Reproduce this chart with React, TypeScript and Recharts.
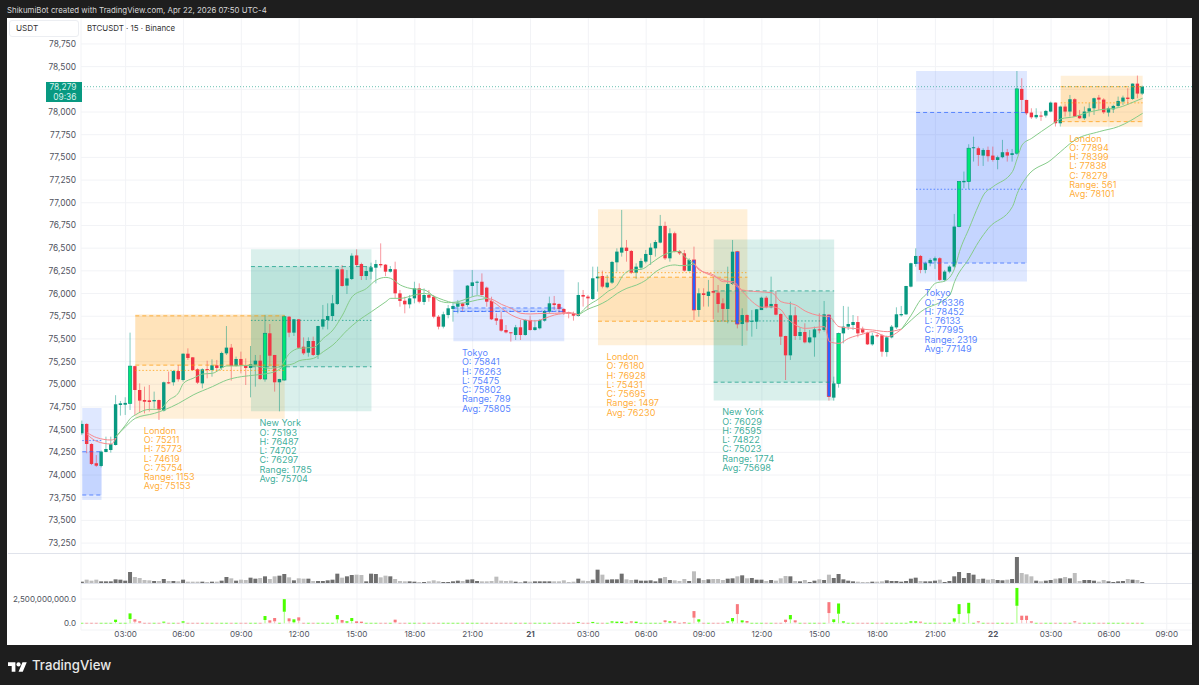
import {
  Bar,
  CartesianGrid,
  ComposedChart,
  Line,
  ReferenceArea,
  ReferenceDot,
  ReferenceLine,
  XAxis,
  YAxis,
} from 'recharts';

const FONT = 'Inter, "Noto Sans", sans-serif';
const FIRST_BAR = 3; // 15 min bars counted from 00:00 on the 20th

// prettier-ignore
const opens = [
  74460, 74563, 74342, 74130, 74100, 74254, 74276, 74331,
  74772, 74775, 74790, 75200, 74937, 74827, 74823, 74812, 74827, 74710,
  75022, 75022, 75146, 75047, 75337, 75297, 75165, 75010, 75168, 75157,
  75209, 75180, 75341, 75404, 75202, 75279, 75209, 75180, 75216, 75260,
  75058, 75562, 75323, 75022, 75047, 75745, 75569, 75716, 75414, 75348,
  75477, 75323, 75635, 75708, 75752, 75885, 76267, 76087, 76160, 76420,
  76325, 76193, 76241, 76285, 76325, 76318, 76241, 76267, 76002, 75921,
  75881, 75947, 76057, 75907, 75984, 75965, 75745, 75635, 75763, 75830,
  75855, 75892, 75874, 76083, 76120, 76130, 76065, 75918, 75727, 75716,
  75598, 75573, 75543, 75628, 75543, 75709, 75598, 75617, 75701, 75800,
  75892, 75885, 75830, 75793, 75782, 75753, 75984, 75966, 75940, 76168,
  76193, 76069, 76120, 76344, 76451, 76506, 76469, 76230, 76285, 76352,
  76425, 76498, 76561, 76745, 76388, 76664, 76469, 76443, 76249, 76370,
  75819, 76003, 75973, 76028, 76009, 75892, 75830, 76105, 76461, 75664,
  75763, 75690, 75690, 75818, 75954, 75848, 75885, 75774, 75532, 75319,
  75760, 75532, 75576, 75462, 75517, 75605, 75598, 75763, 74853, 75010,
  75561, 75635, 75653, 75686, 75612, 75569, 75440, 75540, 75540, 75355,
  75517, 75627, 75760, 75771, 76076, 76326, 76414, 76260, 76334, 76363,
  76389, 76150, 76242, 76297, 76738, 77226, 77233, 77601, 77601, 77520,
  77582, 77520, 77472, 77502, 77557, 77527, 77546, 78255, 78133, 77994,
  77942, 77961, 77961, 78005, 78104, 77876, 78060, 78005, 78141, 77961,
  77931, 78005, 78041, 78159, 78137, 77994, 78030, 78067, 78115, 78159,
  78144, 78313, 78203,
];

// prettier-ignore
const closes = [
  74563, 74342, 74122, 74103, 74258, 74287, 74340, 74780,
  74790, 74795, 75200, 74937, 74820, 74808, 74805, 74827, 74717, 75022,
  75010, 75146, 75055, 75337, 75290, 75157, 75018, 75165, 75157, 75209,
  75180, 75345, 75404, 75202, 75279, 75209, 75180, 75220, 75260, 75058,
  75562, 75315, 75022, 75058, 75745, 75569, 75716, 75403, 75341, 75477,
  75323, 75642, 75716, 75752, 75892, 76267, 76083, 76167, 76417, 76314,
  76193, 76248, 76289, 76325, 76311, 76241, 76270, 76002, 75918, 75881,
  75947, 76057, 75910, 75984, 75954, 75745, 75635, 75771, 75837, 75863,
  75899, 75860, 76087, 76123, 76130, 75984, 75910, 75716, 75701, 75591,
  75572, 75562, 75628, 75543, 75709, 75598, 75628, 75709, 75808, 75892,
  75874, 75830, 75790, 75782, 75756, 75984, 75966, 75947, 76168, 76186,
  76076, 76120, 76348, 76462, 76506, 76469, 76230, 76296, 76359, 76436,
  76506, 76568, 76745, 76388, 76664, 76462, 76443, 76252, 76370, 75819,
  76003, 75984, 76021, 76009, 75885, 75830, 76105, 76461, 75664, 75763,
  75683, 75700, 75826, 75954, 75848, 75885, 75767, 75525, 75319, 75760,
  75532, 75576, 75462, 75517, 75605, 75598, 75771, 74864, 75010, 75561,
  75635, 75664, 75686, 75561, 75570, 75440, 75536, 75532, 75359, 75517,
  75635, 75771, 75774, 76083, 76334, 76414, 76260, 76334, 76370, 76389,
  76150, 76242, 76297, 76738, 77233, 77241, 77601, 77612, 77527, 77582,
  77513, 77472, 77502, 77557, 77520, 77546, 78255, 78133, 77986, 77942,
  77968, 77953, 78012, 78104, 77876, 78060, 78005, 78141, 77950, 77931,
  78005, 78041, 78152, 78137, 77997, 78041, 78067, 78122, 78159, 78144,
  78313, 78203, 78279,
];

// prettier-ignore
const highs = [
  74600, 74570, 74350, 74220, 74270, 74423, 74423, 74880,
  74816, 74857, 75569, 75205, 75010, 74974, 74992, 74919, 74830, 75030,
  75140, 75157, 75213, 75340, 75396, 75300, 75176, 75176, 75260, 75275,
  75268, 75360, 75642, 75444, 75305, 75360, 75285, 75422, 75323, 75323,
  75764, 75664, 75323, 75060, 75760, 75752, 75720, 75720, 75517, 75517,
  75525, 75645, 75874, 75892, 75984, 76278, 76314, 76259, 76443, 76487,
  76340, 76296, 76340, 76370, 76553, 76325, 76303, 76351, 76039, 75965,
  75984, 76130, 76112, 76057, 76039, 75984, 75763, 75800, 75874, 75910,
  75929, 75900, 76094, 76259, 76142, 76222, 76076, 75965, 75782, 75800,
  75653, 75573, 75654, 75709, 75716, 75756, 75709, 75716, 75819, 75966,
  75973, 75892, 75837, 75801, 75801, 76124, 76039, 75984, 76296, 76296,
  76252, 76205, 76359, 76498, 76921, 76590, 76480, 76333, 76388, 76480,
  76553, 76590, 76866, 76792, 76719, 76682, 76480, 76480, 76388, 76517,
  76058, 76058, 76150, 76186, 76094, 75947, 76296, 76590, 76470, 75837,
  75770, 75818, 75830, 75965, 75973, 76186, 76028, 75782, 75535, 75910,
  75855, 75627, 75672, 75598, 75635, 75782, 75918, 75771, 75084, 75570,
  75863, 75855, 75763, 75752, 75635, 75580, 75569, 75561, 75554, 75536,
  75653, 75848, 75863, 76085, 76340, 76498, 76425, 76352, 76388, 76407,
  76400, 76260, 76311, 76877, 77240, 77344, 77645, 77729, 77619, 77600,
  77619, 77619, 77520, 77693, 77593, 77593, 78452, 78372, 78135, 78041,
  78041, 78005, 78023, 78115, 78105, 78071, 78086, 78188, 78152, 78023,
  78060, 78097, 78159, 78188, 78152, 78060, 78080, 78170, 78181, 78262,
  78315, 78402, 78291,
];

// prettier-ignore
const lows = [
  74440, 74240, 74110, 74090, 74085, 74250, 74247, 74325,
  74655, 74662, 74717, 74662, 74687, 74680, 74700, 74735, 74607, 74700,
  75003, 74985, 75029, 75029, 75268, 75147, 75003, 74955, 75066, 75084,
  75140, 75158, 75323, 75040, 75194, 75120, 74992, 74856, 74974, 75047,
  75029, 75194, 74919, 74702, 75040, 75518, 75532, 75396, 75323, 75304,
  75312, 75279, 75605, 75605, 75708, 75874, 76076, 75995, 76149, 76296,
  76149, 76149, 76156, 76112, 76285, 76193, 76230, 75947, 75855, 75782,
  75837, 75892, 75892, 75874, 75910, 75727, 75605, 75616, 75727, 75690,
  75782, 75800, 75855, 75965, 75984, 75976, 75855, 75708, 75653, 75580,
  75561, 75470, 75488, 75488, 75536, 75591, 75591, 75605, 75690, 75782,
  75819, 75782, 75764, 75727, 75701, 75745, 75856, 75819, 75929, 76021,
  76058, 76058, 76105, 76241, 76407, 76351, 76216, 76161, 76260, 76333,
  76315, 76407, 76553, 76370, 76351, 76454, 76425, 76241, 76241, 75709,
  75745, 75856, 75856, 75716, 75790, 75690, 75672, 76094, 75616, 75422,
  75590, 75525, 75609, 75818, 75837, 75837, 75760, 75433, 75047, 75268,
  75488, 75488, 75451, 75451, 75304, 75561, 75580, 74820, 74820, 74963,
  75451, 75598, 75598, 75517, 75555, 75433, 75425, 75517, 75304, 75304,
  75506, 75609, 75745, 75763, 76068, 76296, 76223, 76223, 76300, 76271,
  76140, 76133, 76223, 76278, 76730, 77160, 77149, 77454, 77406, 77406,
  77454, 77454, 77369, 77490, 77454, 77454, 77527, 78005, 77968, 77924,
  77924, 77902, 77939, 77997, 77840, 77840, 77950, 77950, 77946, 77924,
  77913, 77950, 77968, 78023, 77979, 77950, 77990, 78049, 78078, 78078,
  78133, 78152, 78188,
];

// prettier-ignore
const volumes = [
  4, 10, 7, 10, 5, 5, 5, 11,
  10, 7, 33, 18, 15, 9, 8, 6, 6, 12,
  6, 6, 5, 10, 4, 4, 4, 4, 3, 4,
  4, 7, 18, 14, 7, 10, 9, 16, 13, 15,
  20, 12, 20, 22, 27, 17, 8, 14, 13, 13,
  6, 6, 6, 8, 10, 28, 16, 20, 24, 25,
  24, 5, 28, 27, 17, 22, 20, 12, 6, 5,
  5, 4, 3, 3, 5, 8, 5, 3, 3, 5,
  7, 6, 10, 11, 6, 5, 5, 6, 19, 7,
  6, 7, 4, 3, 5, 4, 5, 5, 5, 5,
  5, 5, 8, 3, 4, 13, 7, 6, 10, 40,
  25, 10, 11, 11, 28, 11, 9, 10, 7, 7,
  8, 5, 14, 18, 9, 8, 6, 12, 6, 35,
  14, 9, 11, 12, 12, 9, 13, 14, 20, 23,
  14, 15, 10, 10, 6, 9, 7, 14, 21, 20,
  6, 5, 9, 3, 7, 11, 9, 25, 15, 27,
  11, 7, 5, 4, 3, 3, 4, 4, 5, 8,
  6, 6, 4, 6, 13, 16, 6, 5, 5, 7,
  10, 3, 6, 20, 33, 15, 30, 25, 12, 13,
  10, 12, 9, 8, 10, 12, 78, 30, 26, 20,
  7, 5, 7, 9, 13, 14, 18, 14, 30, 6,
  9, 9, 7, 4, 9, 5, 3, 5, 6, 12,
  10, 9, 3,
];

// lower pane, millions
// prettier-ignore
const deltaTops = [
  60, 60, 60, 60, 60, 60, 60, 374,
  60, 60, 1020, 408, 204, 60, 60, 60, 60, 170,
  60, 60, 60, 204, 60, 60, 60, 60, 60, 60,
  60, 60, 60, 60, 60, 60, 60, 60, 60, 60,
  748, 306, 544, 60, 2482, 510, 408, 612, 60, 60,
  60, 60, 60, 60, 60, 850, 340, 204, 544, 204,
  170, 60, 60, 60, 60, 60, 60, 374, 60, 60,
  60, 60, 60, 60, 60, 60, 60, 60, 60, 60,
  60, 60, 60, 60, 60, 60, 60, 60, 60, 60,
  60, 60, 60, 60, 60, 60, 60, 60, 60, 60,
  60, 60, 60, 60, 60, 140, 60, 60, 140, 60,
  60, 60, 204, 170, 170, 60, 204, 170, 60, 60,
  60, 60, 60, 306, 204, 204, 60, 100, 60, 1258,
  408, 60, 60, 60, 60, 60, 204, 544, 1972, 306,
  238, 60, 60, 60, 60, 60, 60, 60, 374, 850,
  306, 60, 60, 60, 60, 60, 60, 2176, 408, 2040,
  204, 60, 60, 60, 60, 60, 60, 60, 60, 60,
  60, 60, 60, 60, 204, 204, 170, 60, 60, 60,
  60, 60, 60, 510, 1972, 60, 2108, 60, 204, 60,
  60, 60, 60, 60, 60, 60, 3638, 782, 782, 204,
  60, 60, 60, 60, 60, 60, 60, 60, 204, 60,
  60, 60, 60, 60, 60, 60, 60, 60, 60, 60,
  60, 60, 60,
];

// prettier-ignore
const deltaBottoms = [
  0, 0, 0, 0, 0, 0, 0, 136,
  0, 0, 442, 170, 68, 0, 0, 0, 0, 68,
  0, 0, 0, 68, 0, 0, 0, 0, 0, 0,
  0, 0, 0, 0, 0, 0, 0, 0, 0, 0,
  340, 68, 204, 0, 1190, 204, 102, 272, 0, 0,
  0, 0, 0, 0, 0, 408, 68, 68, 238, 34,
  34, 0, 0, 0, 0, 0, 0, 102, 0, 0,
  0, 0, 0, 0, 0, 0, 0, 0, 0, 0,
  0, 0, 0, 0, 0, 0, 0, 0, 0, 0,
  0, 0, 0, 0, 0, 0, 0, 0, 0, 0,
  0, 0, 0, 0, 0, 40, 0, 0, 40, 0,
  0, 0, 68, 34, 34, 0, 68, 34, 0, 0,
  0, 0, 0, 136, 68, 68, 0, 30, 0, 578,
  170, 0, 0, 0, 0, 0, 68, 204, 952, 102,
  68, 0, 0, 0, 0, 0, 0, 0, 136, 408,
  102, 0, 0, 0, 0, 0, 0, 1054, 136, 986,
  68, 0, 0, 0, 0, 0, 0, 0, 0, 0,
  0, 0, 0, 0, 68, 68, 68, 0, 0, 0,
  0, 0, 0, 170, 952, 0, 1020, 0, 102, 0,
  0, 0, 0, 0, 0, 0, 1802, 340, 340, 68,
  0, 0, 0, 0, 0, 0, 0, 0, 102, 0,
  0, 0, 0, 0, 0, 0, 0, 0, 0, 0,
  0, 0, 0,
];

const strongUpBars = [13, 41, 45, 160, 185, 187, 197];
const strongDownBars = [130, 139, 158];

// moving average segments as [bar, price]
const redFast1 = [[4, 74467], [6, 74412], [9, 74386], [10, 74405]];
const redSlow1 = [[4, 74449], [6, 74371], [9, 74342], [10, 74405]];
const greenFast1 = [
  [10, 74423], [12, 74552], [13, 74625], [14, 74662], [17, 74724], [19, 74724], [21, 74827], [23, 74908],
  [24, 75011], [26, 75066], [28, 75113], [30, 75121], [33, 75202], [35, 75202], [38, 75209], [42, 75176],
  [44, 75194], [46, 75340], [48, 75396], [51, 75407], [53, 75506], [55, 75598], [57, 75763], [59, 75965],
  [62, 76057], [64, 76149], [66, 76178], [67, 76167], [69, 76094], [71, 76057], [74, 76039], [76, 75965],
  [77, 75921], [79, 75899], [81, 75910], [83, 75947], [85, 75976], [87, 75947],
];
const greenSlow1 = [
  [10, 74423], [12, 74533], [14, 74625], [18, 74680], [20, 74717], [23, 74790], [26, 74882], [30, 74974],
  [33, 75047], [36, 75084], [39, 75102], [43, 75139], [45, 75202], [47, 75231], [48, 75260], [51, 75286],
  [53, 75359], [55, 75433], [58, 75598], [60, 75690], [63, 75800], [66, 75910], [67, 75947], [69, 75947],
  [72, 75984], [74, 76002], [77, 75947], [79, 75910], [81, 75892], [83, 75905], [85, 75930], [87, 75947],
];
const redFast2 = [
  [87, 75947], [88, 75936], [90, 75880], [92, 75837], [94, 75782], [96, 75775], [99, 75782], [101, 75782],
  [104, 75790], [106, 75764],
];
const redSlow2 = [
  [87, 75947], [89, 75880], [90, 75837], [92, 75764], [94, 75720], [97, 75698], [99, 75727], [101, 75764],
  [104, 75782], [106, 75764],
];
const greenFast2 = [
  [106, 75764], [108, 75870], [110, 75936], [112, 76021], [114, 76094], [115, 76186], [117, 76260],
  [119, 76267], [121, 76333], [123, 76407], [126, 76462], [127, 76462], [128, 76407], [130, 76326],
];
const greenSlow2 = [
  [106, 75764], [108, 75830], [110, 75870], [112, 75925], [114, 76002], [116, 76058], [118, 76094],
  [120, 76150], [122, 76241], [124, 76296], [126, 76315], [127, 76307], [129, 76315], [130, 76326],
];
const redFast3 = [
  [130, 76326], [131, 76270], [134, 76190], [136, 76149], [138, 76112], [140, 76020], [142, 75910], [144, 75848],
  [146, 75855], [148, 75819], [149, 75745], [151, 75653], [153, 75616], [157, 75635], [158, 75470], [160, 75451],
  [162, 75506], [165, 75554], [167, 75580], [170, 75525], [173, 75609],
];
const redSlow3 = [
  [130, 76326], [131, 76259], [134, 76205], [136, 76131], [138, 76131], [140, 76039], [143, 76021], [146, 76009],
  [148, 75910], [151, 75874], [153, 75807], [156, 75756], [158, 75745], [160, 75635], [163, 75616], [167, 75598],
  [170, 75580], [173, 75609],
];
const greenFast3 = [
  [173, 75609], [175, 75763], [177, 75936], [178, 75985], [180, 76113], [182, 76139], [184, 76278], [185, 76462],
  [187, 76719], [189, 76976], [190, 77087], [192, 77178], [196, 77344], [197, 77491], [198, 77638], [200, 77711],
  [204, 77858], [206, 77924], [209, 77950], [211, 77986], [214, 78023], [218, 78049], [221, 78108], [223, 78152],
];
const greenSlow3 = [
  [173, 75609], [175, 75708], [177, 75800], [183, 75985], [184, 76132], [187, 76389], [189, 76572], [191, 76719],
  [196, 76958], [197, 77105], [199, 77288], [204, 77472], [206, 77564], [209, 77693], [214, 77784], [218, 77840],
  [223, 77986],
];

const sessions = [
  { name: 'Tokyo', from: 3, to: 7, o: 74257, h: 74739, l: 73725, c: 73780, avg: 74380, labelled: false },
  { name: 'London', from: 14, to: 45, o: 75211, h: 75773, l: 74619, c: 75754, range: 1153, avg: 75153, labelled: true },
  { name: 'New York', from: 38, to: 63, o: 75193, h: 76487, l: 74702, c: 76297, range: 1785, avg: 75704, labelled: true },
  { name: 'Tokyo', from: 80, to: 103, o: 75841, h: 76263, l: 75475, c: 75802, range: 789, avg: 75805, labelled: true },
  { name: 'London', from: 110, to: 141, o: 76180, h: 76928, l: 75431, c: 75695, range: 1497, avg: 76230, labelled: true },
  { name: 'New York', from: 134, to: 159, o: 76029, h: 76595, l: 74822, c: 75023, range: 1774, avg: 75698, labelled: true },
  { name: 'Tokyo', from: 176, to: 199, o: 76336, h: 78452, l: 76133, c: 77995, range: 2319, avg: 77149, labelled: true },
  { name: 'London', from: 206, to: 223, o: 77894, h: 78399, l: 77838, c: 78279, range: 561, avg: 78101, labelled: true },
];

const sessionColors: Record<string, string> = {
  Tokyo: '#2962ff',
  London: '#ff9800',
  'New York': '#089981',
};

const priceTicks = [
  73250, 73500, 73750, 74000, 74250, 74500, 74750, 75000, 75250, 75500, 75750, 76000, 76250, 76500, 76750, 77000,
  77250, 77500, 77750, 78000, 78250, 78500, 78750,
];
const timeTicks = [12, 24, 36, 48, 60, 72, 84, 96, 108, 120, 132, 144, 156, 168, 180, 192, 204, 216, 228];
const timeLabels = [
  '03:00', '06:00', '09:00', '12:00', '15:00', '18:00', '21:00', '21', '03:00', '06:00', '09:00', '12:00', '15:00',
  '18:00', '21:00', '22', '03:00', '06:00', '09:00',
];
const LAST_PRICE = 78279;
const HIDDEN_PRICE_TICK = 78250; // sits under the last price tag

const bars = opens.map((open, i) => ({
  t: i + FIRST_BAR,
  open,
  close: closes[i],
  high: highs[i],
  low: lows[i],
  range: [lows[i], highs[i]],
  volume: volumes[i],
  deltaTop: deltaTops[i],
  deltaBottom: deltaBottoms[i],
  delta: [0, deltaTops[i]],
}));

const asRows = (pts: number[][]) => pts.map(([t, price]) => ({ t, price }));

const xDomain = [2.739, 233.24];
const UP = '#089981';
const DOWN = '#f23645';
const GRID = '#f2f3f6';
const AXIS_TEXT = '#50535e';

function Candle(props: any) {
  const { x, y, width, height, payload: d } = props;
  const cx = x + width / 2;
  const perUnit = height / (d.high - d.low);
  const py = (p: number) => y + (d.high - p) * perUnit;
  const isUp = d.close >= d.open;
  const top = py(Math.max(d.open, d.close));
  const bodyH = Math.max(py(Math.min(d.open, d.close)) - top, 1);
  let fill = isUp ? UP : DOWN;
  let stroke = 'none';
  if (strongUpBars.includes(d.t)) {
    fill = '#00e676';
    stroke = UP;
  }
  if (strongDownBars.includes(d.t)) {
    fill = '#2962ff';
    stroke = DOWN;
  }
  return (
    <g>
      <line x1={cx} x2={cx} y1={y} y2={y + height} stroke={isUp ? UP : DOWN} strokeOpacity={0.5} strokeWidth={1} />
      <rect x={cx - 1.7} y={top} width={3.4} height={bodyH} fill={fill} stroke={stroke} strokeWidth={0.7} />
    </g>
  );
}

function VolumeBar(props: any) {
  const { x, y, width, height, payload: d } = props;
  return <rect x={x} y={y} width={width} height={height} fill={d.close >= d.open ? '#6f6f6f' : '#bdbdbd'} />;
}

function DeltaBar(props: any) {
  const { x, y, width, height, payload: d } = props;
  const cx = x + width / 2;
  const isUp = d.close >= d.open;
  const perUnit = height / d.deltaTop;
  const bodyH = Math.max((d.deltaTop - d.deltaBottom) * perUnit, 1);
  const tiny = d.deltaTop <= 60;
  return (
    <g>
      <line x1={cx} x2={cx} y1={y + bodyH} y2={y + height} stroke={isUp ? '#a4ff7c' : '#fbb7b9'} strokeWidth={1} />
      <rect
        x={cx - 1.5}
        y={y}
        width={3}
        height={bodyH}
        fill={isUp ? '#4cff00' : '#f8797e'}
        fillOpacity={tiny ? 0.55 : 1}
      />
    </g>
  );
}

function SessionLabel(props: any) {
  const { cx, cy, session } = props;
  const lines = [
    session.name,
    `O: ${session.o}`,
    `H: ${session.h}`,
    `L: ${session.l}`,
    `C: ${session.c}`,
    `Range: ${session.range}`,
    `Avg: ${session.avg}`,
  ];
  return (
    <text
      x={cx + 8.5}
      y={cy + 15}
      fontSize={9.1}
      fontFamily={FONT}
      fill={sessionColors[session.name]}
      fillOpacity={0.8}
    >
      {lines.map((l, i) => (
        <tspan key={i} x={cx + 8.5} dy={i === 0 ? 0 : 9.25}>
          {l}
        </tspan>
      ))}
    </text>
  );
}

function TimeTick(props: any) {
  const { x, y, index } = props;
  const label = timeLabels[index];
  const isDay = label.length === 2;
  return (
    <text
      x={x}
      y={y}
      dy={3}
      textAnchor="middle"
      fontSize={8.1}
      fontFamily={FONT}
      fontWeight={isDay ? 700 : 400}
      fill={AXIS_TEXT}
    >
      {label}
    </text>
  );
}

function segmentLine(pts: number[][], color: string, key: string) {
  return (
    <Line
      key={key}
      data={asRows(pts)}
      dataKey="price"
      type="monotone"
      stroke={color}
      strokeWidth={1}
      dot={false}
      activeDot={false}
      legendType="none"
      isAnimationActive={false}
    />
  );
}

function MainPane() {
  const green = '#86cc8a';
  const red = '#f7898e';
  return (
    <ComposedChart width={1184} height={535} data={bars} margin={{ top: 0, right: 0, bottom: 0, left: 0 }}>
      <CartesianGrid stroke={GRID} strokeWidth={1} />
      <XAxis dataKey="t" type="number" domain={xDomain} ticks={timeTicks} allowDataOverflow hide />
      <YAxis
        type="number"
        domain={[73141, 79036]}
        ticks={priceTicks}
        allowDataOverflow
        width={73}
        tick={{ fontSize: 8.4, fontFamily: FONT, fill: AXIS_TEXT }}
        tickLine={false}
        axisLine={false}
        tickSize={0}
        tickMargin={5}
        interval={0}
        tickFormatter={(v: number) => (v === HIDDEN_PRICE_TICK ? '' : v.toLocaleString('en-US'))}
      />
      {sessions.map((s, i) => (
        <ReferenceArea
          key={`box${i}`}
          x1={s.from}
          x2={s.to}
          y1={s.l}
          y2={s.h}
          fill={sessionColors[s.name]}
          fillOpacity={0.15}
          stroke="none"
        />
      ))}
      {sessions.map((s, i) => (
        <ReferenceArea
          key={`band${i}`}
          x1={s.from}
          x2={s.to}
          y1={Math.min(s.o, s.c)}
          y2={Math.max(s.o, s.c)}
          fill={sessionColors[s.name]}
          fillOpacity={0.14}
          stroke="none"
        />
      ))}
      {sessions.flatMap((s, i) =>
        [
          { y: s.o, dash: '4 3' },
          { y: s.c, dash: '4 3' },
          { y: s.avg, dash: '1.5 2' },
        ].map((l, j) => (
          <ReferenceLine
            key={`lvl${i}-${j}`}
            segment={[
              { x: s.from, y: l.y },
              { x: s.to, y: l.y },
            ]}
            stroke={sessionColors[s.name]}
            strokeWidth={1}
            strokeOpacity={0.7}
            strokeDasharray={l.dash}
          />
        )),
      )}
      <ReferenceLine y={LAST_PRICE} stroke={UP} strokeOpacity={0.6} strokeDasharray="1 2" />
      <Bar dataKey="range" barSize={4} shape={<Candle />} isAnimationActive={false} />
      {segmentLine(redFast1, red, 'rf1')}
      {segmentLine(redSlow1, red, 'rs1')}
      {segmentLine(greenFast1, green, 'gf1')}
      {segmentLine(greenSlow1, green, 'gs1')}
      {segmentLine(redFast2, red, 'rf2')}
      {segmentLine(redSlow2, red, 'rs2')}
      {segmentLine(greenFast2, green, 'gf2')}
      {segmentLine(greenSlow2, green, 'gs2')}
      {segmentLine(redFast3, red, 'rf3')}
      {segmentLine(redSlow3, red, 'rs3')}
      {segmentLine(greenFast3, green, 'gf3')}
      {segmentLine(greenSlow3, green, 'gs3')}
      {sessions
        .filter(s => s.labelled)
        .map((s, i) => (
          <ReferenceDot
            key={`lab${i}`}
            x={s.from}
            y={s.l}
            r={0}
            ifOverflow="visible"
            shape={(p: any) => <SessionLabel {...p} session={s} />}
          />
        ))}
    </ComposedChart>
  );
}

function VolumePane() {
  return (
    <ComposedChart width={1184} height={30} data={bars} margin={{ top: 0, right: 0, bottom: 0, left: 0 }}>
      <CartesianGrid stroke={GRID} horizontal={false} />
      <XAxis dataKey="t" type="number" domain={xDomain} ticks={timeTicks} allowDataOverflow hide />
      <YAxis type="number" domain={[0, 90]} width={73} tick={false} tickLine={false} axisLine={false} />
      <Bar dataKey="volume" barSize={4} shape={<VolumeBar />} isAnimationActive={false} />
    </ComposedChart>
  );
}

function DeltaPane() {
  return (
    <ComposedChart width={1184} height={62} data={bars} margin={{ top: 0, right: 0, bottom: 0, left: 0 }}>
      <CartesianGrid stroke={GRID} />
      <XAxis
        dataKey="t"
        type="number"
        domain={xDomain}
        ticks={timeTicks}
        allowDataOverflow
        interval={0}
        height={15}
        tick={<TimeTick />}
        tickLine={false}
        axisLine={false}
        tickSize={0}
        tickMargin={4}
      />
      <YAxis
        type="number"
        domain={[-689, 4146]}
        ticks={[0, 2500]}
        allowDataOverflow
        width={73}
        tick={{ fontSize: 8, fontFamily: FONT, fill: AXIS_TEXT }}
        tickLine={false}
        axisLine={false}
        tickSize={0}
        tickMargin={5}
        tickFormatter={(v: number) => (v === 0 ? '0.0' : `${(v * 1e6).toLocaleString('en-US')}.0`)}
      />
      <Bar dataKey="delta" barSize={4} shape={<DeltaBar />} isAnimationActive={false} />
    </ComposedChart>
  );
}

export default function App() {
  return (
    <div
      style={{
        position: 'relative',
        width: 1199,
        height: 685,
        background: '#1e1e1e',
        fontFamily: FONT,
        overflow: 'hidden',
      }}
    >
      <style>{'body{margin:0;background:#1e1e1e}'}</style>
      <div style={{ position: 'absolute', left: 7, top: 5, fontSize: 7.85, color: '#d6d6d6', whiteSpace: 'nowrap' }}>
        ShikumiBot created with TradingView.com, Apr 22, 2026 07:50 UTC-4
      </div>
      <div style={{ position: 'absolute', left: 7, top: 18, width: 1185, height: 627, background: '#fff' }} />
      <div style={{ position: 'absolute', left: 8, top: 18 }}>
        <MainPane />
      </div>
      <div style={{ position: 'absolute', left: 8, top: 553 }}>
        <VolumePane />
      </div>
      <div style={{ position: 'absolute', left: 8, top: 583 }}>
        <DeltaPane />
      </div>
      <div style={{ position: 'absolute', left: 8, top: 553, width: 1184, height: 1, background: '#e0e3eb' }} />
      <div style={{ position: 'absolute', left: 81, top: 582.5, width: 1111, height: 1, background: '#e0e3eb' }} />
      <div
        style={{
          position: 'absolute',
          left: 9,
          top: 20,
          width: 70,
          height: 17,
          boxSizing: 'border-box',
          border: '1px solid #eceef2',
          borderRadius: 3,
          background: '#fff',
          fontSize: 8.2,
          lineHeight: '15px',
          paddingLeft: 6,
          color: '#333',
        }}
      >
        USDT
      </div>
      <div style={{ position: 'absolute', left: 87, top: 23, fontSize: 7.9, color: '#333', whiteSpace: 'nowrap' }}>
        BTCUSDT · 15 · Binance
      </div>
      <div
        style={{
          position: 'absolute',
          left: 46,
          top: 82,
          width: 35.5,
          height: 20,
          background: '#089981',
          color: '#d9f2ec',
          fontSize: 8.4,
          lineHeight: '9.6px',
          textAlign: 'right',
          paddingTop: 1,
          boxSizing: 'border-box',
          paddingRight: 5,
        }}
      >
        {LAST_PRICE.toLocaleString('en-US')}
        <br />
        09:36
      </div>
      <svg style={{ position: 'absolute', left: 8, top: 660 }} width={19} height={13} viewBox="0 0 36 24">
        <path d="M14 22H7V11H0V4h14v18zM28 22h-8l7.5-18h8L28 22z" fill="#fff" />
        <circle cx="20" cy="8" r="4" fill="#fff" />
      </svg>
      <div
        style={{
          position: 'absolute',
          left: 32,
          top: 657,
          fontSize: 13.2,
          fontWeight: 500,
          color: '#e8e8e8',
          whiteSpace: 'nowrap',
        }}
      >
        TradingView
      </div>
    </div>
  );
}
